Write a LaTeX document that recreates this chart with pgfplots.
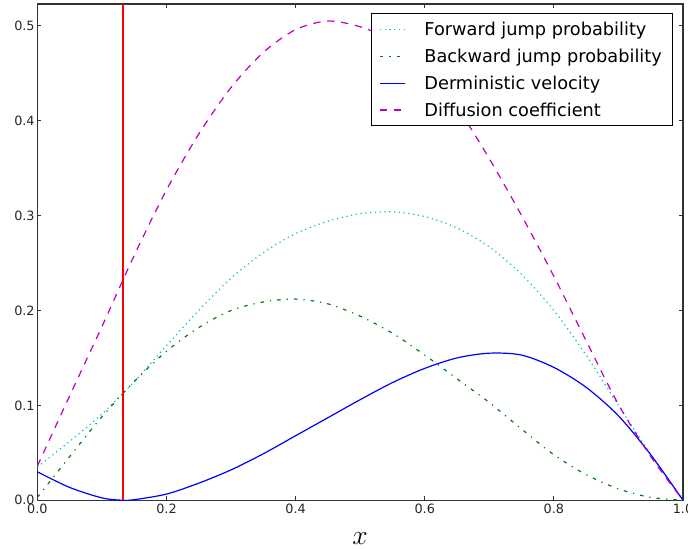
\documentclass[border=0pt]{standalone}
\usepackage{fontspec}
\setmainfont{DejaVu Sans}
\usepackage{pgfplots}
\pgfplotsset{compat=1.18}
\definecolor{mplc}{rgb}{0,0.75,0.75}
\definecolor{mplg}{rgb}{0,0.5,0}
\definecolor{mplm}{rgb}{0.75,0,0.75}
\begin{document}
\begin{tikzpicture}
\begin{axis}[
  scale only axis, width=484pt, height=372pt,
  xmin=0, xmax=1, ymin=0, ymax=0.523,
  xtick={0,0.2,0.4,0.6,0.8,1.0},
  ytick={0,0.1,0.2,0.3,0.4,0.5},
  /pgf/number format/fixed, /pgf/number format/fixed zerofill,
  /pgf/number format/precision=1, /pgf/number format/assume math mode=true,
  tick label style={font=\fontsize{9.6}{11}\selectfont, text=black!85},
  xticklabel style={yshift=1pt},
  yticklabel style={xshift=1.5pt},
  tick align=inside, major tick length=3pt,
  tick style={black!80, line width=0.6pt},
  axis line style={black!80, line width=0.8pt},
  xlabel={$x$},
  xlabel style={font=\fontsize{20}{24}\selectfont, at={(axis description cs:0.5,0)}, anchor=center, yshift=-28.5pt},
  legend cell align=left,
  legend image code/.code={\draw[#1] (0pt,0pt) -- (19pt,0pt);},
  legend style={at={(1,1)}, anchor=north east, xshift=-7.5pt, yshift=-7pt,
    font=\fontsize{13.3}{16}\selectfont, draw=black, line width=0.8pt,
    inner xsep=6pt, inner ysep=3.5pt,
    row sep=4.2pt,
    nodes={text height=11pt, text depth=1pt, inner sep=2pt}},
]
\addplot[mplc, line width=0.9pt, dash pattern=on 0.9pt off 2.7pt, smooth] coordinates {
(0.00,0.035) (0.05,0.062) (0.10,0.091) (0.15,0.125) (0.20,0.163) (0.25,0.200)
(0.30,0.234) (0.35,0.261) (0.40,0.281) (0.45,0.294) (0.50,0.302) (0.55,0.304)
(0.60,0.299) (0.65,0.287) (0.70,0.267) (0.75,0.238) (0.80,0.200) (0.85,0.153)
(0.90,0.100) (0.95,0.048) (1.00,0.000)};
\addlegendentry{\hspace*{12pt}Forward jump probability}
\addplot[mplg, line width=0.9pt, dash pattern=on 2.7pt off 4.5pt on 0.9pt off 4.5pt, smooth] coordinates {
(0.00,0.003) (0.05,0.046) (0.10,0.088) (0.15,0.125) (0.20,0.157) (0.25,0.182)
(0.30,0.200) (0.35,0.209) (0.40,0.212) (0.45,0.207) (0.50,0.194) (0.55,0.176)
(0.60,0.153) (0.65,0.128) (0.70,0.103) (0.75,0.075) (0.80,0.048) (0.85,0.027)
(0.90,0.012) (0.95,0.003) (1.00,0.000)};
\addlegendentry{\hspace*{12pt}Backward jump probability}
\addplot[blue, line width=0.9pt, smooth] coordinates {
(0.00,0.030) (0.05,0.0135) (0.10,0.0025) (0.132,0.000) (0.15,0.0006) (0.20,0.0065)
(0.25,0.018) (0.30,0.032) (0.35,0.049) (0.40,0.068) (0.45,0.087) (0.50,0.106)
(0.55,0.124) (0.60,0.139) (0.65,0.150) (0.70,0.155) (0.75,0.153) (0.80,0.140)
(0.85,0.119) (0.90,0.089) (0.95,0.048) (1.00,0.000)};
\addlegendentry{\hspace*{12pt}Derministic velocity}
\addplot[mplm, line width=0.9pt, dash pattern=on 5.5pt off 5pt, smooth] coordinates {
(0.00,0.036) (0.05,0.110) (0.10,0.183) (0.15,0.258) (0.20,0.327) (0.25,0.386)
(0.30,0.435) (0.35,0.472) (0.40,0.496) (0.45,0.505) (0.50,0.499) (0.55,0.484)
(0.60,0.456) (0.65,0.414) (0.70,0.360) (0.75,0.300) (0.80,0.236) (0.85,0.168)
(0.90,0.101) (0.95,0.046) (1.00,0.000)};
\addlegendentry{\hspace*{12pt}Diffusion coefficient}
\addplot[red, line width=1.5pt, forget plot] coordinates {(0.132,0) (0.132,0.523)};
\end{axis}
\pgfresetboundingbox
\path ([shift={(-28pt,-36pt)}]current axis.south west) rectangle ([shift={(3.75pt,3pt)}]current axis.north east);
\end{tikzpicture}
\end{document}
